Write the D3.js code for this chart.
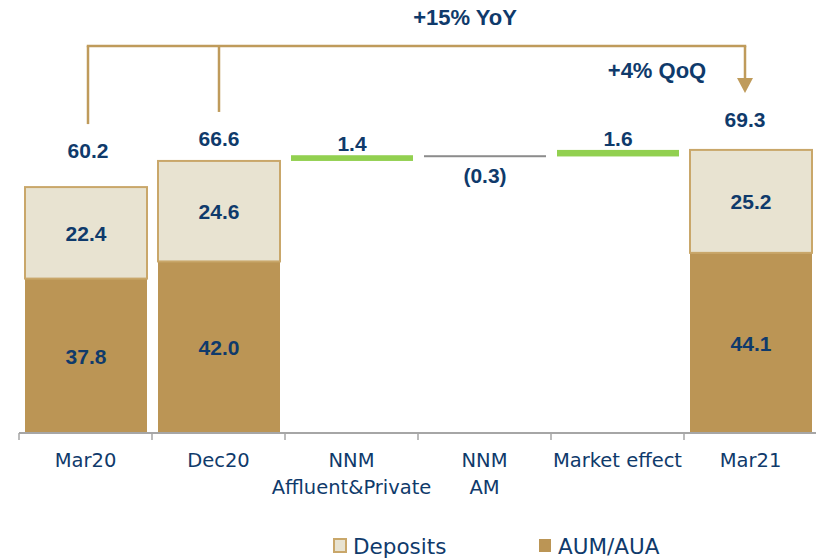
<!DOCTYPE html>
<html>
<head>
<meta charset="utf-8">
<script src="https://cdn.jsdelivr.net/npm/d3@7"></script>
<style>
  body { margin: 0; background: #fff; }
  svg { display: block; }
</style>
</head>
<body>
<div id="chart"></div>
<script>
var categories = ["Mar20", "Dec20", "NNM|Affluent&Private", "NNM|AM", "Market effect", "Mar21"]
var aum = [37.8, 42.0, null, null, null, 44.1]
var deposits = [22.4, 24.6, null, null, null, 25.2]
var totals = [60.2, 66.6, null, null, null, 69.3]
var deltas = [null, null, 1.4, -0.3, 1.6, null]
var deltaLabels = ["", "", "1.4", "(0.3)", "1.6", ""]
var yoyLabel = "+15% YoY"
var qoqLabel = "+4% QoQ"
var legendItems = ["Deposits", "AUM/AUA"]

var width = 816, height = 559
var navy = "#0f3a6b"
var aumColor = "#bb9555"
var depColor = "#e8e3d1"
var depStroke = "#c9a76a"
var green = "#92d050"
var grey = "#8c8c8c"
var arrowColor = "#bf9b5b"
var fontText = "'DejaVu Sans', sans-serif"
var fontNum = "'Liberation Sans', Arial, sans-serif"

var svg = d3.select("#chart").append("svg")
    .attr("width", width)
    .attr("height", height)

/* Scales */
var x = d3.scaleBand().domain(categories).range([19, 817])
var y = d3.scaleLinear().domain([0, 106]).range([433, 0])
var barX = c => x(c) + 6
var barW = x.bandwidth() - 11
var barC = c => barX(c) + barW / 2

function numText(sel, size) {
    return sel.attr("text-anchor", "middle")
        .attr("font-family", fontNum)
        .attr("font-weight", "bold")
        .attr("font-size", size || "21px")
        .attr("fill", navy)
}

/* Stacked bars */
var rows = categories.map(function(c, i) {
    return { cat: c, aum: aum[i] || 0, deposits: deposits[i] || 0, total: totals[i] }
}).filter(d => d.total != null)

var stack = d3.stack().keys(["aum", "deposits"])(rows)

svg.append("g").selectAll("g")
    .data(stack).enter()
    .append("g")
    .selectAll("rect")
    .data(function(s) { return s.map(d => ({ key: s.key, d0: d[0], d1: d[1], cat: d.data.cat })) })
    .enter()
    .append("rect")
    .attr("x", d => barX(d.cat))
    .attr("width", barW)
    .attr("y", d => y(d.d1))
    .attr("height", d => y(d.d0) - y(d.d1))
    .attr("fill", d => d.key == "aum" ? aumColor : depColor)
    .attr("stroke", d => d.key == "aum" ? "none" : depStroke)
    .attr("stroke-width", 2)

/* Labels inside segments */
stack.forEach(function(s) {
    svg.append("g").selectAll("text")
        .data(s).enter()
        .append("text")
        .attr("x", d => barC(d.data.cat))
        .attr("y", d => (y(d[0]) + y(d[1])) / 2 + 8)
        .call(numText)
        .text(d => (d[1] - d[0]).toFixed(1))
})

/* Total labels above bars */
var totalGap = { "Mar20": 29, "Dec20": 15, "Mar21": 23 }
var totalShift = { "Mar20": 2, "Dec20": 0, "Mar21": -6 }
svg.append("g").selectAll("text")
    .data(rows).enter()
    .append("text")
    .attr("x", d => barC(d.cat) + totalShift[d.cat])
    .attr("y", d => y(d.total) - totalGap[d.cat])
    .call(numText)
    .text(d => d.total.toFixed(1))

/* Waterfall bridge */
var running = totals[1]
var steps = []
deltas.forEach(function(v, i) {
    if (v == null) return
    steps.push({ cat: categories[i], from: running, to: running + v, v: v, label: deltaLabels[i] })
    running += v
})

svg.append("g").selectAll("rect")
    .data(steps).enter()
    .append("rect")
    .attr("x", d => barX(d.cat))
    .attr("width", barW)
    .attr("y", d => d.v >= 0 ? y(d.to) : y(d.from))
    .attr("height", d => Math.max(2, Math.abs(y(d.to) - y(d.from))))
    .attr("fill", d => d.v >= 0 ? green : grey)

svg.append("g").selectAll("text")
    .data(steps).enter()
    .append("text")
    .attr("x", d => barC(d.cat))
    .attr("y", d => d.v >= 0 ? y(d.to) - 4 : y(d.to) + 27)
    .call(numText)
    .text(d => d.label)

/* Growth arrows */
var topY = 46
var arrows = svg.append("g")
    .attr("stroke", arrowColor)
    .attr("stroke-width", 2.5)
    .attr("fill", "none")
var xa = barC("Mar20") + 2, xb = barC("Dec20"), xc = barC("Mar21") - 6
arrows.append("line").attr("x1", xa).attr("x2", xa).attr("y1", topY).attr("y2", y(totals[0]) - 29 - 34)
arrows.append("line").attr("x1", xb).attr("x2", xb).attr("y1", topY).attr("y2", y(totals[1]) - 15 - 34)
arrows.append("line").attr("x1", xa - 1.25).attr("x2", xc + 1.25).attr("y1", topY).attr("y2", topY)
var tipY = y(totals[5]) - 23 - 34
arrows.append("line").attr("x1", xc).attr("x2", xc).attr("y1", topY).attr("y2", tipY - 14)
svg.append("path")
    .attr("d", `M${xc - 8},${tipY - 15} L${xc + 8},${tipY - 15} L${xc},${tipY} Z`)
    .attr("fill", arrowColor)

svg.append("text")
    .attr("x", 465).attr("y", 25)
    .call(numText, "22px")
    .text(yoyLabel)

svg.append("text")
    .attr("x", 657).attr("y", 78)
    .call(numText, "22px")
    .text(qoqLabel)

/* Axis */
var axis = svg.append("g")
axis.append("line")
    .attr("x1", x.range()[0]).attr("x2", width)
    .attr("y1", y(0)).attr("y2", y(0))
    .attr("stroke", "#a6a6a6").attr("stroke-width", 2)
axis.selectAll(".tick")
    .data(categories).enter()
    .append("line")
    .attr("x1", d => x(d)).attr("x2", d => x(d))
    .attr("y1", y(0)).attr("y2", y(0) + 7)
    .attr("stroke", "#a6a6a6").attr("stroke-width", 1.5)

axis.selectAll(".lab")
    .data(categories).enter()
    .append("text")
    .attr("x", d => x(d) + x.bandwidth() / 2)
    .attr("y", 467)
    .attr("text-anchor", "middle")
    .attr("font-family", fontText)
    .attr("font-size", "19.5px")
    .attr("fill", navy)
    .each(function(d) {
        var parts = d.split("|")
        var t = d3.select(this)
        parts.forEach(function(p, i) {
            t.append("tspan")
                .attr("x", x(d) + x.bandwidth() / 2)
                .attr("dy", i == 0 ? 0 : 27)
                .text(p)
        })
    })

/* Legend */
var legend = svg.append("g")
var legX = [333, 538]
legendItems.forEach(function(name, i) {
    legend.append("rect")
        .attr("x", legX[i] + 1).attr("y", 539)
        .attr("width", 12).attr("height", 13)
        .attr("fill", i == 0 ? depColor : aumColor)
        .attr("stroke", i == 0 ? depStroke : "none")
        .attr("stroke-width", 2)
    legend.append("text")
        .attr("x", legX[i] + 20).attr("y", 554)
        .attr("font-family", fontText)
        .attr("font-size", "21.5px")
        .attr("fill", navy)
        .text(name)
})
</script>
</body>
</html>
